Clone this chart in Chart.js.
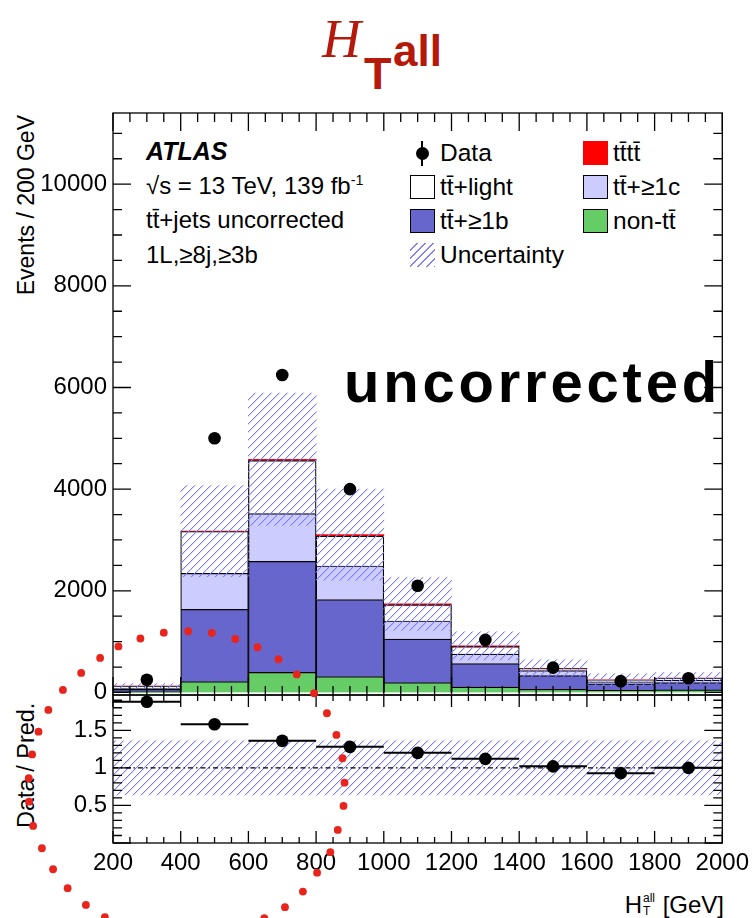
<!DOCTYPE html>
<html>
  <head>
    <meta charset="utf-8" />
    <title>HT all - uncorrected</title>
    <script src="https://cdn.jsdelivr.net/npm/chart.js@4.4.1/dist/chart.umd.min.js"></script>
    <style>
      body { margin: 0; background: #fff; }
      #page {
        position: relative; width: 755px; height: 918px; overflow: hidden;
        font-family: "Liberation Sans", Arial, sans-serif; color: #000;
      }
      #plot { position: absolute; left: 0; top: 0; z-index: 1; }
      .t { position: absolute; white-space: nowrap; line-height: 1; }
      .sup { font-size: 0.6em; vertical-align: 0.6em; }
      .ttl { color: #b5190c; font-weight: bold; }
      .box { position: absolute; width: 25px; height: 24px; box-sizing: border-box; border: 1.5px solid #000; }
      .ss { display: inline-block; position: relative; width: 14px; height: 0; }
      .ss span { position: absolute; left: 1px; font-size: 12px; line-height: 1; }
    </style>
  </head>
  <body>
    <div id="page">
      <!-- title -->
      <div class="t" style="left:322px; top:8px; font:italic 54px 'Liberation Serif', serif; color:#b5190c">H</div>
      <div class="t ttl" style="left:364px; top:51px; font-size:45px">T</div>
      <div class="t ttl" style="left:393px; top:29px; font-size:44px">all</div>

      <!-- axis titles -->
      <div class="t" style="left:15px; top:415px; width:300px; text-align:right; font-size:23px; transform-origin:0 0; transform:rotate(-90deg)">Events / 200 GeV</div>
      <div class="t" style="left:15px; top:828px; width:200px; text-align:left; font-size:23.5px; transform-origin:0 0; transform:rotate(-90deg)">Data / Pred.</div>
      <div class="t" style="right:31px; top:893px; font-size:24px">H<span class="ss"><span style="bottom:9px">all</span><span style="bottom:-4px">T</span></span> [GeV]</div>

      <!-- labels inside the main panel -->
      <div class="t" style="left:146px; top:139px; font-size:25px; font-weight:bold; font-style:italic">ATLAS</div>
      <div class="t" style="left:146px; top:173px; font-size:24px">√s = 13 TeV, 139 fb<span class="sup">-1</span></div>
      <div class="t" style="left:146px; top:208px; font-size:24px">tt&#x304;+jets uncorrected</div>
      <div class="t" style="left:146px; top:243px; font-size:24px">1L,≥8j,≥3b</div>
      <div class="t" style="left:344px; top:353px; font-size:58px; font-weight:bold; letter-spacing:3.8px">uncorrected</div>

      <!-- legend -->
      <div style="position:absolute; left:421px; top:141px; width:1.6px; height:25px; background:#000"></div>
      <div style="position:absolute; left:415.5px; top:147px; width:13px; height:13px; border-radius:50%; background:#000"></div>
      <div class="box" style="left:410px; top:175px; background:#fff"></div>
      <div class="box" style="left:410px; top:209px; background:#6666cc"></div>
      <div class="box" style="left:410px; top:243px; border:none; background:repeating-linear-gradient(135deg, rgba(255,255,255,0) 0 4.4px, #8080fa 4.4px 5.8px)"></div>
      <div class="box" style="left:583px; top:141px; border:none; background:#ff0000"></div>
      <div class="box" style="left:583px; top:175px; background:#ccccff"></div>
      <div class="box" style="left:583px; top:209px; background:#66cc66"></div>
      <div class="t" style="left:440px; top:141px; font-size:24.5px">Data</div>
      <div class="t" style="left:440px; top:175px; font-size:24.5px">tt&#x304;+light</div>
      <div class="t" style="left:440px; top:209px; font-size:24.5px">tt&#x304;+≥1b</div>
      <div class="t" style="left:440px; top:243px; font-size:24.5px">Uncertainty</div>
      <div class="t" style="left:613px; top:141px; font-size:24.5px">tt&#x304;tt&#x304;</div>
      <div class="t" style="left:613px; top:175px; font-size:24.5px">tt&#x304;+≥1c</div>
      <div class="t" style="left:613px; top:209px; font-size:24.5px">non-tt&#x304;</div>

      <canvas id="plot" width="755" height="918"></canvas>
    </div>

    <script>
      // bins in GeV
      const binLow = [200, 400, 600, 800, 1000, 1200, 1400, 1600, 1800];
      const binHigh = [400, 600, 800, 1000, 1200, 1400, 1600, 1800, 2000];
      const xTicks = [200, 400, 600, 800, 1000, 1200, 1400, 1600, 1800, 2000];
      const yTicks = [0, 2000, 4000, 6000, 8000, 10000];
      const ratioTicks = [0.5, 1, 1.5];

      // stacked predictions, events per bin (bottom to top)
      const nonTtbar = [15, 212, 395, 311, 193, 104, 63, 40, 50];
      const ttB = [45, 1422, 2184, 1517, 857, 463, 267, 130, 145];
      const ttC = [25, 709, 941, 660, 356, 188, 101, 40, 50];
      const ttLight = [39, 824, 1043, 587, 316, 148, 40, 35, 34];
      const tttt = [1, 8, 25, 30, 20, 12, 6, 3, 3];
      const mcUncertainty = [50, 895, 1300, 895, 520, 276, 163, 120, 110];

      const dataEvents = [250, 5000, 6245, 4000, 2100, 1035, 488, 222, 280];

      // lower panel
      const ratioValues = [1.88, 1.58, 1.36, 1.28, 1.2, 1.12, 1.02, 0.93, 1.0];
      const ratioBandLow = [0.64, 0.64, 0.64, 0.64, 0.64, 0.64, 0.64, 0.64, 0.64];
      const ratioBandHigh = [1.36, 1.36, 1.36, 1.36, 1.36, 1.36, 1.36, 1.36, 1.36];

      // red dotted ring, read in the upper panel's units (GeV, events)
      const ringX = [52, 106, 162, 216, 281, 350, 422, 492, 561, 627, 689, 743, 794, 832, 860, 878, 884, 881, 864, 842, 803, 761, 708, 647,
                     9, -20, -39, -49, -48, -36, -10, 23, 66, 120, 176];
      const ringY = [49, 384, 679, 905, 1062, 1176, 1204, 1170, 1052, 889, 653, 354, -16, -409, -836, -1294, -1774, -2233, -2705, -3143, -3545, -3918, -4225, -4441,
                     -344, -771, -1220, -1688, -2148, -2626, -3065, -3478, -3851, -4180, -4422];

      const centres = binLow.map((lo, i) => (lo + binHigh[i]) / 2);
      const pts = (vals) => vals.map((v, i) => ({ x: centres[i], y: v }));
      const totals = centres.map((c, i) => nonTtbar[i] + ttB[i] + ttC[i] + ttLight[i] + tttt[i]);

      const canvas = document.getElementById("plot");
      const ctx = canvas.getContext("2d");

      // diagonal "/" hatching, a bit over 1 px wide
      function makeHatch() {
        const t = document.createElement("canvas");
        t.width = 8;
        t.height = 8;
        const g = t.getContext("2d");
        for (let i = 0; i < 8; i++) {
          g.fillStyle = "rgb(125, 125, 252)";
          g.fillRect(i, 7 - i, 1, 1);
          g.fillStyle = "rgba(125, 125, 252, 0.3)";
          g.fillRect(i, (8 - i) % 8, 1, 1);
        }
        return ctx.createPattern(t, "repeat");
      }
      const hatch = makeHatch();

      const histo = {
        type: "bar",
        yAxisID: "y",
        stack: "mc",
        grouped: false,
        barPercentage: 1,
        categoryPercentage: 1,
        borderColor: "#000",
        borderWidth: 1.2,
        borderSkipped: "start",
      };

      // ROOT-like frame with inward ticks on every side of both pads
      const rootFrame = {
        id: "rootFrame",
        afterDatasetsDraw(chart) {
          const { ctx, chartArea: a, scales } = chart;
          const x = scales.x;
          const pads = [
            { s: scales.y, step: 500, every: 4, xMaj: 18, xMin: 9, yMaj: 18, yMin: 9 },
            { s: scales.yr, step: 0.1, every: 5, xMaj: 12, xMin: 6, yMaj: 18, yMin: 9 },
          ];
          ctx.save();
          ctx.strokeStyle = "#000";
          ctx.lineWidth = 1.3;
          for (const p of pads) {
            const top = p.s.top, bot = p.s.bottom;
            ctx.strokeRect(a.left, top, a.right - a.left, bot - top);
            ctx.beginPath();
            for (let v = 200; v <= 2000; v += 50) {
              const px = x.getPixelForValue(v);
              const len = v % 200 === 0 ? p.xMaj : p.xMin;
              ctx.moveTo(px, bot); ctx.lineTo(px, bot - len);
              ctx.moveTo(px, top); ctx.lineTo(px, top + len);
            }
            const k0 = Math.ceil(p.s.min / p.step - 1e-6), k1 = Math.floor(p.s.max / p.step + 1e-6);
            for (let k = k0; k <= k1; k++) {
              const py = p.s.getPixelForValue(k * p.step);
              const len = k % p.every === 0 ? p.yMaj : p.yMin;
              ctx.moveTo(a.left, py); ctx.lineTo(a.left + len, py);
              ctx.moveTo(a.right, py); ctx.lineTo(a.right - len, py);
            }
            ctx.stroke();
          }
          ctx.restore();
        },
        afterDraw(chart) {
          // the red ring sits over everything, also outside the plot area
          const meta = chart.getDatasetMeta(chart.data.datasets.findIndex((d) => d.label === "ring"));
          const ctx = chart.ctx;
          ctx.save();
          ctx.fillStyle = "#e8241c";
          for (const el of meta.data) {
            ctx.beginPath();
            ctx.arc(el.x, el.y, 3.9, 0, Math.PI * 2);
            ctx.fill();
          }
          ctx.restore();
        },
      };

      const tickFont = { family: '"Liberation Sans", Arial, sans-serif', size: 24 };

      new Chart(ctx, {
        type: "bar",
        data: {
          datasets: [
            { label: "ring", type: "scatter", yAxisID: "y", stack: "ring", data: ringX.map((v, i) => ({ x: v, y: ringY[i] })),
              pointRadius: 0, backgroundColor: "#e8241c", clip: false, order: -1 },
            { label: "Data", type: "scatter", yAxisID: "y", stack: "data", data: pts(dataEvents),
              pointRadius: 6.3, backgroundColor: "#000", borderWidth: 0, order: 0 },
            { label: "Ratio", type: "scatter", yAxisID: "yr", data: pts(ratioValues),
              pointRadius: 6.3, backgroundColor: "#000", borderWidth: 0, order: 0 },
            { label: "Ratio bins", type: "line", yAxisID: "yr",
              data: centres.flatMap((c, i) => [{ x: binLow[i], y: ratioValues[i] }, { x: binHigh[i], y: ratioValues[i] }, { x: binHigh[i], y: null }]),
              borderColor: "#000", borderWidth: 2, pointRadius: 0, spanGaps: false, order: 1 },
            { label: "Unity", type: "line", yAxisID: "yr", data: [{ x: 200, y: 1 }, { x: 2000, y: 1 }],
              borderColor: "#000", borderWidth: 1.2, borderDash: [5, 3, 1.5, 3], pointRadius: 0, order: 1 },
            { label: "Uncertainty", type: "bar", yAxisID: "y", stack: "band", grouped: false, barPercentage: 1, categoryPercentage: 1,
              data: centres.map((c, i) => ({ x: c, y: [totals[i] - mcUncertainty[i], totals[i] + mcUncertainty[i]] })),
              backgroundColor: hatch, borderWidth: 0, order: 2 },
            { label: "Ratio uncertainty", type: "bar", yAxisID: "yr", stack: "rband", grouped: false, barPercentage: 1, categoryPercentage: 1,
              data: centres.map((c, i) => ({ x: c, y: [ratioBandLow[i], ratioBandHigh[i]] })),
              backgroundColor: hatch, borderWidth: 0, order: 2 },
            { ...histo, label: "non-tt", data: pts(nonTtbar), backgroundColor: "#66cc66", order: 3 },
            { ...histo, label: "tt+>=1b", data: pts(ttB), backgroundColor: "#6666cc", order: 4 },
            { ...histo, label: "tt+>=1c", data: pts(ttC), backgroundColor: "#ccccff", order: 5 },
            { ...histo, label: "tt+light", data: pts(ttLight), backgroundColor: "#ffffff", order: 6 },
            { ...histo, label: "tttt", data: pts(tttt), backgroundColor: "#ff0000", borderWidth: 0, order: 7 },
          ],
        },
        options: {
          responsive: false,
          animation: false,
          devicePixelRatio: 1,
          events: [],
          layout: { padding: { top: 113, right: 31, bottom: 0, left: 0 } },
          plugins: { legend: { display: false }, tooltip: { enabled: false } },
          scales: {
            x: {
              type: "linear", min: 200, max: 2000, offset: false,
              afterBuildTicks: (s) => { s.ticks = xTicks.map((v) => ({ value: v })); },
              afterFit: (s) => { s.height = 75; },
              ticks: { font: tickFont, color: "#000", padding: 6, maxRotation: 0, autoSkip: false, callback: (v) => String(v) },
              grid: { display: false, drawTicks: false, offset: false },
              border: { display: false },
            },
            yr: {
              type: "linear", position: "left", stack: "pads", stackWeight: 148, min: 0, max: 1.97,
              afterBuildTicks: (s) => { s.ticks = ratioTicks.map((v) => ({ value: v })); },
              afterFit: (s) => { s.width = 113; },
              ticks: { font: tickFont, color: "#000", padding: 6, autoSkip: false, callback: (v) => String(v) },
              grid: { display: false, drawTicks: false },
              border: { display: false },
            },
            y: {
              type: "linear", position: "left", stack: "pads", stackWeight: 582, stacked: true, min: -50, max: 11400,
              afterBuildTicks: (s) => { s.ticks = yTicks.map((v) => ({ value: v })); },
              afterFit: (s) => { s.width = 113; },
              ticks: { font: tickFont, color: "#000", padding: 6, autoSkip: false, callback: (v) => String(v) },
              grid: { display: false, drawTicks: false },
              border: { display: false },
            },
          },
        },
        plugins: [rootFrame],
      });
    </script>
  </body>
</html>
